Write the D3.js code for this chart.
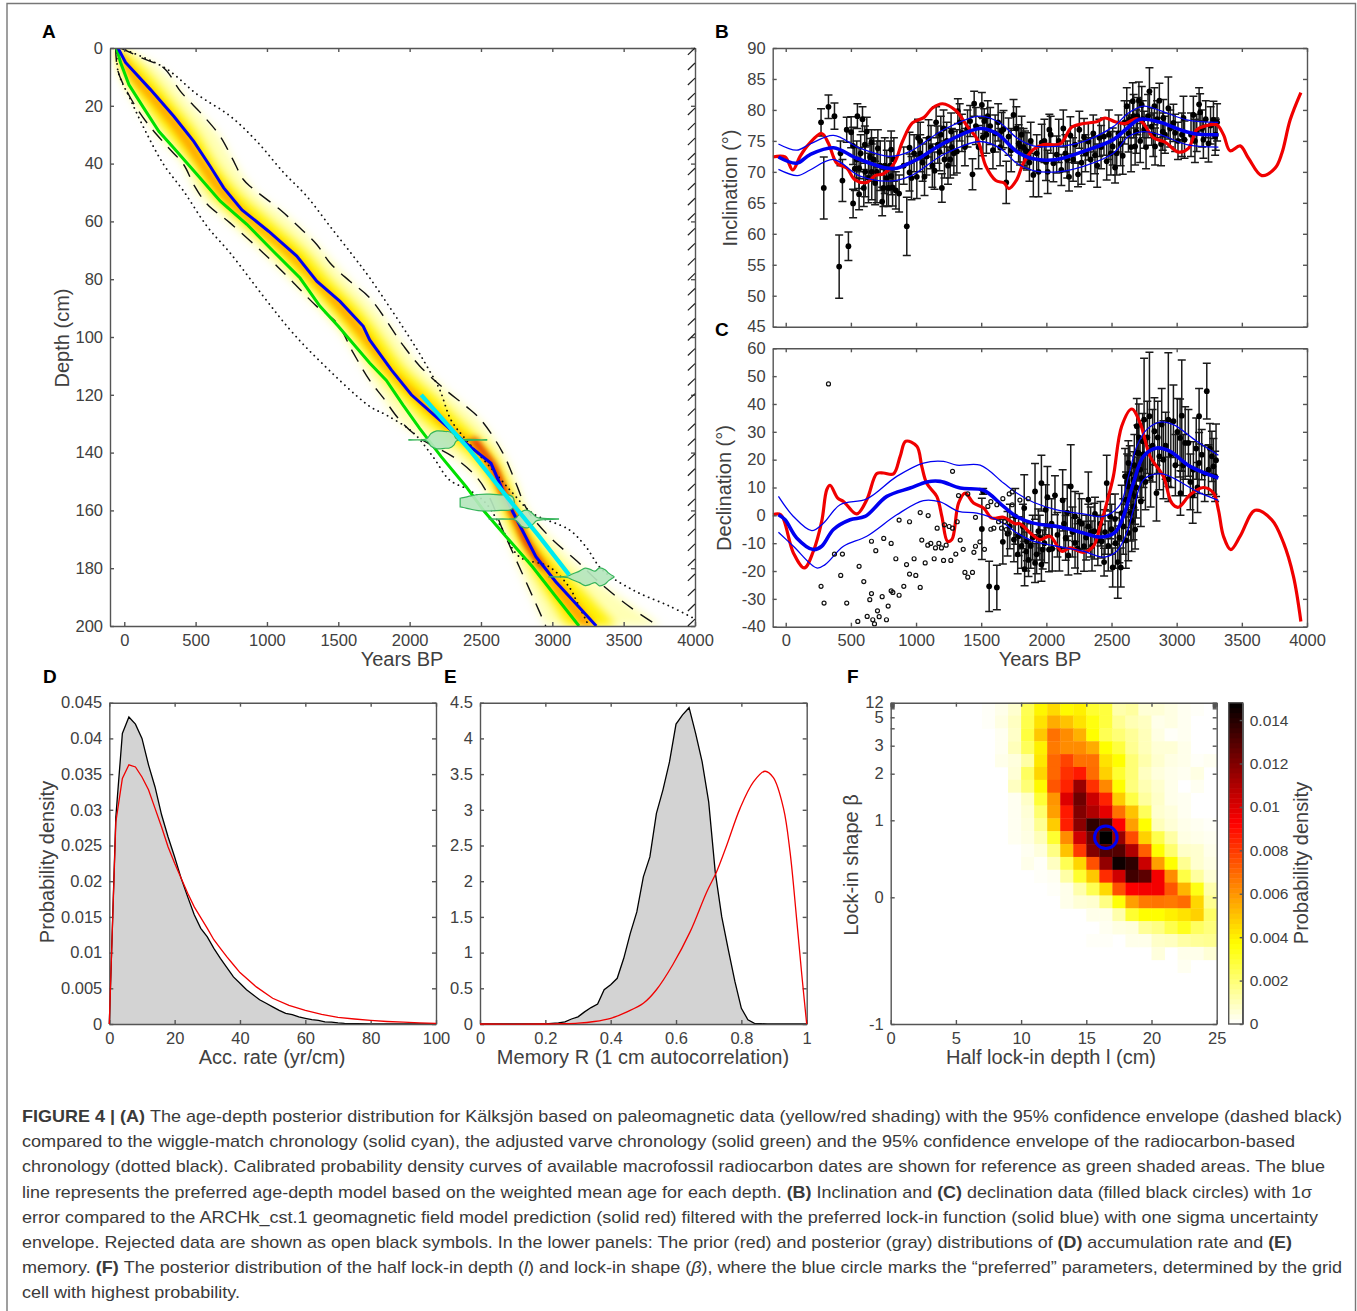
<!DOCTYPE html>
<html>
<head>
  <title>Figure 4</title>
  <style>
    body { margin: 0; background: #fff; }
    svg { display: block; font-family: "Liberation Sans", sans-serif; }
    .tick text { font-size: 16.5px; fill: #404040; }
    .bar-axis .tick text { font-size: 15.5px; }
    .domain, .tick line { stroke: #555; stroke-width: 1.4; }
    .title { font-size: 20px; fill: #404040; text-anchor: middle; }
    .panel { font-size: 19px; font-weight: bold; fill: #000; }
    .cap { font-size: 17px; fill: #3a3a3a; }
  </style>
</head>
<body>
<svg id="fig" width="1357" height="1311"></svg>
<script src="https://d3js.org/d3.v7.min.js"></script>
<script>
// ---- panel A: age-depth
const blueD = [0,5,14.4,23.6,32.3,41,48.4,56,63.4,72,80.7,87.7,96.3,101,111.4,120,128.7,136.8,143.7,153,160.4,176,184.7,192.2,200];
const blueA = [-44,9,184,347,487,603,697,825,1011,1209,1349,1512,1675,1720,1872,2012,2210,2396,2570,2652,2722,2885,3024,3164,3308];
const greenD = [0,5,12.7,20.8,28.8,34.6,43.8,53,61,70.4,79.6,89.4,96.3,109,115,123.5,131.6,141.4,151.8,160.4,169,179.5,189.8,200];
const greenA = [-54,-26,33,137,242,347,510,673,859,1046,1232,1372,1500,1720,1837,1953,2070,2221,2396,2524,2675,2861,3024,3187];
const cyanD = [120,139,156.3,169,182.3];
const cyanA = [2081,2419,2698,2908,3118];
const dashHiD = [0,3.5,6.9,15,23.6,30.6,38,45.6,48.4,56,62.3,68,74.4,80.7,86.5,102.8,110,118,124,128.7,140,150.6,160,169,177.7,185.8,194,199];
const dashHiA = [-26,126,277,394,557,673,755,836,895,1093,1232,1349,1442,1581,1721,1953,2070,2244,2396,2500,2652,2745,2827,2978,3176,3350,3560,3711];
const dashLoD = [0,8,17.3,26,34,40.4,47.3,54,60.6,71,80,89.4,95,105.5,115,121,128.7,135,141.4,148.3,155.3,166.7,179.5,192.2,200];
const dashLoA = [-60,-44,44,161,300,417,487,580,743,976,1162,1349,1488,1605,1720,1814,1930,2070,2303,2466,2558,2652,2768,2884,2954];
const dotHiD = [0,7,16,23.6,32.3,43,51.3,61.7,72,79.6,102,109.7,118,128.7,135.6,146,154,161,166.7,172.5,180.6,188,193,197.3];
const dotHiA = [-26,289,510,743,929,1115,1279,1442,1605,1721,2023,2116,2209,2290,2396,2582,2722,2862,3118,3234,3350,3583,3816,3990];
const dotLoD = [0,8,17.9,28.8,40.4,49.6,61.7,71,86,97.5,107.3,124,127,133,141.4,149.5,153,157.6,165.6,176,179.5,186.5,192,199];
const dotLoA = [-50,-44,44,149,277,417,580,743,976,1162,1349,1720,1837,2023,2163,2280,2419,2536,2640,2768,2978,3118,3176,3246];

// shading bands (age limits at each depth)
const shadeD = [0,5,10,20,30,40,50,60,70,80,90,100,110,120,130,140,150,160,170,180,190,200];
const paleLo = [-60,-50,-25,85,235,410,510,730,955,1162,1360,1540,1670,1800,1950,2260,2490,2600,2690,2770,2860,2954];
const paleHi = [-26,190,310,480,660,775,920,1180,1385,1570,1760,1920,2070,2290,2510,2650,2745,2827,3000,3200,3470,3760];
const yellowLo = [-50,-30,10,150,310,470,600,810,1040,1240,1430,1600,1750,1920,2120,2390,2560,2650,2745,2850,2970,3100];
const yellowHi = [-30,90,190,360,520,640,800,1030,1260,1440,1640,1800,1950,2170,2380,2580,2690,2775,2890,3070,3260,3450];
const orangeLo = [-40,-15,40,210,370,510,650,860,1100,1300,1480,1650,1810,2000,2210,2470,2600,2690,2785,2910,3040,3200];
const orangeHi = [-35,30,110,290,450,580,730,925,1170,1350,1560,1720,1860,2070,2280,2530,2650,2740,2840,2990,3150,3310];
const redD = [135,140,145,150,155,160,165,170,175,180];
const redLo = [2420,2500,2570,2610,2650,2700,2750,2790,2850,2920];
const redHi = [2470,2540,2610,2650,2690,2735,2780,2825,2885,2955];

// radiocarbon pdfs: centre depth, age, half height in cm
const pdfDepth = [135.6,157.3,163,183];
const pdfAge = [
  [1995,2120,2150,2190,2250,2280,2310,2330,2540],
  [2354,2375,2430,2480,2560,2640,2700,2725,2733],
  [2558,2740,2760,2790,2830,2860,2890,2920,3043],
  [2977,3110,3140,3190,3230,3265,3300,3330,3370,3395,3432]
];
const pdfHalf = [
  [0.1,0.4,2.2,3.1,2.9,2.8,1.8,0.3,0.1],
  [1.5,1.7,2.3,2.8,2.9,2.7,2.6,1.8,0.4],
  [0.05,0.3,1.2,2.7,3,2,0.6,0.3,0.05],
  [0.05,0.3,1,2,3,2.6,2,3.1,2.5,1.3,0.1]
];

// ---- panel B: inclination
const incAge = [271,328,374,292,410,481,420,435,517,468,502,517,563,550,589,563,599,622,607,658,647,686,707,740,750,788,809,809,845,929,950,950,985,1006,1032,1032,1065,1096,1142,1154,1167,1180,1198,1211,1218,1262,1269,1275,1313,1321,1352,1433,1415,1446,1459,1505,1513,1523,1569,1607,1671,1692,1710,1748,1787,1825,1851,1657,1798,1836,1900,1926,1964,1997,2023,2033,2054,2079,2115,2146,2174,2184,2220,2243,2253,2289,2322,2360,2373,2407,2442,2463,2509,2527,2553,2586,2617,2630,2663,2681,2698,2732,2750,2791,2808,2829,2834,2867,2893,2898,2936,2975,2988,3052,3060,3128,3154,3172,3180,3205,3223,3244,3282,3295,
  830,870,905,965,1015,1050,1080,1115,1125,1190,1235,1245,1290,1335,1375,1395,1480,1540,1550,1590,1630,1645,1730,1770,1810,1870,1880,1940,1985,2010,2095,2130,2160,2205,2270,2300,2340,2390,2420,2480,2495,2540,2570,2600,2640,2650,2670,2690,2710,2720,2740,2765,2780,2820,2850,2880,2910,2950,3010,3040,3110,3140,3195,3260,3310,3300,
  530,545,575,610,635,660,675,700,725,760,775,800,820];
const incVal = [78,80.5,79,67.4,54.7,58,73,68.6,64.9,76.8,76.4,74.2,70.6,79,78.5,66.4,67.4,76.5,74.4,74.8,72.4,68.2,73.8,65.2,67.4,67.4,73.6,69.3,67,61.2,73.9,69.9,73,69.2,75,73,69.2,75.4,70.2,78,74.4,73.2,67.4,77,72,72,76.5,74,73.3,79.8,76.3,69.6,78.2,81,77.4,80.8,75.6,78.2,77.4,76.2,76.9,68.3,75.7,79.2,74.6,74,73.3,76.6,74.1,73.6,69.5,73,74.7,71.6,76.8,76,71.4,72.8,70.3,73,69.2,75.9,74.4,69.6,76.8,75.6,74.9,76.2,72.7,75.5,75.7,71.7,74.1,70.7,76.2,72.6,80.6,76.2,81.4,74.1,79,80.8,76.8,83,77.3,80.6,74.1,81.5,76.5,78.7,80.3,77.9,76.3,78.7,75.2,79.2,76.3,80.9,79.6,75.2,78.5,74.6,78.4,75.7,
  72,66.5,71,69,75.5,71.5,72.5,74,71,76,75,71,73,78,74,77,74,76,79,73.5,78,74,73.5,77,76,71.5,75,70,75,70,75,77,72,72,71.5,73,72,71,74,76,73,73,74.5,78,78.5,74,79,76.5,81.5,75,78.5,74,79,76,78.5,74.5,76,77,75,76,76,75,77,77.5,78,76,
  70.5,72,73,70,69,70,72,70,71,71,69,71,67.5];
const incErr = [2.2,1.9,2.1,5,5.1,2.3,2,3.4,2.3,2,2.5,3,3.3,2,2,2.5,3,2.3,3,2,3,3.5,3,2.3,3,3,3,3,3,4.7,2.5,3,3,3.5,3,3,3,3,3,2.5,3,3,2.3,3,3,3,3,3,3.5,2,3,2.5,2.5,2,3,2,3,2,3,3,3,3.4,3,2.5,3,3,3,3,3,3,3.5,3,3,3,2.5,3,3,3,2.5,3,2.3,3,3,2,3,3,3,3,3,3,3,3,3,2.5,3,3,3,3,3,3,3,3,3,3.8,3,3,3,2.8,3,3,5,3,3,3.5,3,3,3,2.7,3,3,3,3,3,3,
  3.5,3,3,3.5,3,3,3,3.5,3.5,3,3,3,3.5,3,3,3,3.5,3,2.5,3,3,3,3.5,3.5,3,3,3,4,3.5,3.5,3.5,3,3,3.5,3.5,3,3.5,3.5,3.5,4,3.5,3.5,3.5,3.5,3,4,3.5,3.5,3,3.5,3,3.5,3.5,3.5,3,3.5,3,3,3,3.5,3.5,3.5,3,3,3,2.5,
  3.5,3,3,4,4,4.5,3.5,5,4,4.5,4.5,4,3];
const incRedA = [-100,-5,54,110,174,276,328,392,468,532,622,686,750,833,896,972,1062,1126,1203,1305,1395,1472,1536,1612,1676,1712,1772,1823,1900,1977,2105,2194,2284,2386,2450,2527,2604,2693,2745,2822,2911,3013,3090,3154,3218,3307,3359,3410,3487,3551,3653,3755,3807,3871,3953];
const incRedV = [72.4,72.4,70.3,72.5,74.4,76.2,74.6,71.4,70.6,68.7,68.3,69.4,69.7,71.4,74.9,77.9,78.8,80.3,81,79.9,77.3,75.2,70.9,68.6,68.2,67.3,68.7,71.4,73.6,74.4,74.5,77.2,77.8,78.1,78.7,78.1,77.8,78.6,77.8,75.5,74.8,73.2,73.8,76.8,77.4,77.6,76,73.4,74.2,72.2,69.4,70.6,73,78.4,82.8];
const incBlueA = [-56,84,187,366,545,776,852,1006,1211,1492,1620,1772,1900,2079,2284,2514,2617,2719,2873,3026,3154,3320];
const incBlueV = [72.4,71.4,72.8,73.9,72.2,70.6,70.6,72,74.6,77,76.2,73.3,72.1,72,73.3,75.2,77,78.5,78,76.8,76.1,76];
const incUpA = [-56,84,187,366,571,801,955,1211,1492,1646,1772,1900,2079,2284,2514,2630,2745,2873,3077,3320];
const incUpV = [74.5,73.5,74.5,75.9,73.8,72.5,73.3,76.8,79,77.9,75.5,74.2,74.1,74.9,77.3,79.5,80.6,79.9,78.4,78];
const incLowA = [-56,90,187,366,571,801,955,1211,1492,1646,1772,1900,2079,2284,2514,2630,2745,2873,3077,3320];
const incLowV = [70.4,69.4,70.3,72,69.3,68.5,69.3,72.8,74.9,73.8,71.4,70.2,70,70.9,73,75.7,76.5,76,74.4,74];

// ---- panel C: declination
const decAge = [1505,1515,1561,1620,1666,1702,1751,1761,1787,1830,1833,1863,1851,1913,1913,1939,1962,1962,1972,2008,2020,2066,2125,2148,2169,2187,2220,2220,2253,2289,2322,2322,2373,2368,2425,2443,2463,2489,2509,2527,2548,2571,2578,2629,2629,2647,2668,2681,2694,2706,2732,2750,2791,2829,2867,2885,2898,2936,2936,2975,3026,3039,3029,3065,3128,3123,3172,3172,3192,3231,3244,3270,3282,3302,2604,2611,2655,2681,2668,2699,2719,2739,2629,
  1720,1780,1810,1820,1845,1880,1895,1925,1950,1985,1995,2040,2045,2085,2100,2135,2160,2200,2240,2270,2305,2340,2350,2395,2415,2450,2475,2500,2530,2560,2590,2610,2620,2640,2655,2675,2690,2710,2725,2745,2760,2775,2800,2815,2845,2855,2915,2955,2990,3005,3050,3090,3105,3150,3160,3215,3255,3295];
const decVal = [-4.9,8.6,-25.5,-25.9,-9.5,-6.6,-8.7,-0.4,-7.5,2.6,-19.3,-16,-9.3,8.6,-17.1,-5.7,11.6,-17.7,-12.3,6.5,-12.3,7.2,5.4,-8.1,-14.4,10.4,-0.4,-9.9,-2.2,-11.1,5.6,-4,0.5,-5.7,-9.3,-16.8,11.6,-0.4,-18.7,-1.3,-16.8,-18.7,0.8,18.8,10.4,0.8,3.2,-5.1,32,22.4,13.4,34.4,35.6,30.2,21.2,32.6,20,34.4,13,33.8,27.8,35.8,8,26,16.4,7.2,35.6,18.8,21.8,44.6,16.4,21.2,17.6,19.8,14,5.6,8,6.8,12.8,22.4,16.4,26.6,-6.3,
  -4,-14,-11,-4,-13,-11,-8,-14,-8,-10,2,-3,-12,-7,-12,-3,1,-6,-12,-3,-8,-6,-11,-9,-3,-6,-11,-5,-10,-8,-4,-9,12,15,-2,18,10,28,5,22,12,28,14,25,8,28,25,22,18,30,18,26,12,24,10,15,24,14];
const decErr = [11,1,9,8,8,8,8,10,7,12,6,6,7,10,7,8,10,6,7,11,8,7,11,8,7,15,9,9,10,9,10,8,6,10,6,5,10,8,7,9,13,7,10,8,11,10,12,7,10,10,8,22,23,12,12,13,14,24,8,13,14,20,8,13,10,10,10,11,9,10,9,9,10,13,10,10,10,10,10,10,10,10,10,
  8,7,8,8,7,8,8,7,8,7,9,9,8,8,8,9,10,9,9,9,8,9,9,9,8,8,9,9,9,9,10,10,10,10,11,11,11,12,9,12,10,13,11,13,10,13,12,12,11,12,11,12,10,11,9,10,9,9];
const rejAge = [328,374,435,271,294,422,468,563,599,553,658,691,752,809,845,870,927,950,950,985,998,1032,1093,1044,1032,1070,1090,1113,1139,1149,1175,1195,1162,1211,1231,1218,1254,1280,1267,1280,1305,1316,1326,1339,1362,1397,1375,1397,1433,1444,1456,1456,1490,1525,1551,1574,1620,1574,1597,1666,1656,1679,1692,1715,1738,1738,1715,1797,1861,1633,625,645,658,668,681,704,717,740,773,786,809,822,870,906];
const rejVal = [47.2,-13.9,-13.9,-25.5,-31.5,-21.6,-31.5,-18.3,-23.8,-38.1,-9.3,-12.7,-8.3,-10.1,-15.6,-1.7,-17.7,-2.3,-21.1,-15.6,-21.6,1,-0.1,-8.9,-25.9,-17.1,-10.7,-10.1,-15.6,-11.7,-10.1,-11.7,-4.6,-16.2,-10.7,-3.4,-4,-4.6,-16.2,15.8,-13.9,-2.3,7.1,-8.9,-12.2,7.7,-20.5,-22.2,-20.5,-13.3,-11.1,-0.7,-9.5,-12.2,3.2,4.9,3.8,-5,-4.6,6,-4.6,-2.3,-5.1,7.7,8.4,3.8,-6.3,5.5,6,-2.3,-36.3,-30.3,-28.1,-37.5,-39,-34.3,-36.4,-29.2,-37.5,-32.6,-27.1,-27.7,-28.7,-25.5];
const decRedA = [-100,-38,59,143,212,276,315,340,399,443,545,622,699,750,827,878,921,1006,1044,1083,1159,1198,1241,1275,1326,1377,1441,1518,1582,1671,1760,1798,1875,1951,2028,2118,2182,2284,2361,2412,2463,2514,2578,2655,2719,2796,2898,2962,3013,3103,3205,3282,3320,3359,3415,3487,3602,3730,3820,3896,3953];
const decRedV = [0.2,0.2,-13.5,-18.9,-12.9,-2.2,9.2,10.8,6.2,5,0.5,5.6,15,15.2,14.9,21.2,26.6,24.8,17.6,11.4,6.8,-0.4,-9.3,-8.7,4.4,8,4.4,2.6,-1,-0.7,-3,-3,-6.3,-8.7,-7.5,-12.9,-11.7,-13.3,-11.1,-4,4.4,14,32,38.2,33.2,21.2,14,4.4,2.9,7.4,10,8,2,-7.5,-12.3,-7.5,1.8,-1.6,-9.9,-21.9,-38.1];
const decBlueA = [-56,-5,84,212,276,366,494,609,776,955,1083,1185,1339,1518,1671,1772,1900,2105,2284,2412,2527,2591,2668,2745,2847,2949,3103,3320];
const decBlueV = [0.2,-1.6,-8.1,-12.3,-11.1,-5.1,-1.6,-0.4,6.8,9.8,12,12.2,9.8,9,3.2,-0.4,-2.8,-4.2,-6.3,-7.8,-6.1,-0.4,11.6,21.2,24.2,23,17.6,13.4];
const decUpA = [-56,59,200,289,417,622,852,1057,1211,1313,1492,1671,1772,1900,2079,2284,2438,2565,2630,2694,2770,2873,2975,3154,3320];
const decUpV = [6.8,-0.4,-5.5,-2.8,3.8,5.9,14,18.8,19.4,18,18,11.6,8,4.7,2,0.5,-0.4,3.8,14,24.8,30.8,33.5,32.6,26.6,21.6];
const decLowA = [-56,59,238,302,443,622,852,1057,1185,1326,1467,1671,1772,1900,2079,2284,2438,2540,2617,2668,2745,2873,2975,3154,3320];
const decLowV = [-6.1,-11.1,-18.9,-17.7,-11.1,-7.5,0.2,5.3,4.8,1.4,0.8,-2.8,-6.3,-9.3,-11.1,-12.9,-15,-12.9,-6.3,2,12.8,15,13.4,8.6,5.4];

// ---- panel D: accumulation rate
const accPostX = [0,2,4,6,8,10,12,14,16,18,20,22,24,26,28,30,32,34,36,38,40,42,44,46,48,50,52,54,56,58,60,62,64,66,68,70,72,76,80,100];
const accPostY = [0,0.029,0.0407,0.043,0.042,0.04,0.0363,0.0332,0.0293,0.0262,0.0234,0.0204,0.0178,0.0153,0.0134,0.0122,0.0106,0.0092,0.0079,0.0066,0.0057,0.0048,0.0041,0.0034,0.0029,0.0024,0.0019,0.0015,0.0013,0.001,0.0008,0.0006,0.0005,0.0003,0.00025,0.00015,0.0001,0.00005,0,0];
const accPriorX = [0,2,4,6,8,10,12,14,16,18,20,22,24,26,28,30,32,34,36,38,40,45,50,55,60,65,70,75,80,85,90,95,100];
const accPriorY = [0,0.0283,0.0344,0.0363,0.036,0.0346,0.0328,0.0302,0.0276,0.0248,0.0225,0.0204,0.0183,0.0164,0.0149,0.0134,0.0118,0.0106,0.0094,0.0083,0.0072,0.0052,0.0036,0.0026,0.0019,0.00135,0.00093,0.0007,0.0005,0.00035,0.00025,0.00015,0.0001];

// ---- panel E: memory
const memPostX = [0,0.2,0.22,0.24,0.26,0.28,0.3,0.32,0.34,0.36,0.38,0.4,0.42,0.44,0.46,0.48,0.5,0.52,0.54,0.56,0.58,0.6,0.62,0.64,0.66,0.68,0.7,0.72,0.74,0.76,0.78,0.8,0.82,0.84,0.86,0.88,1];
const memPostY = [0,0,0.01,0.015,0.03,0.07,0.1,0.17,0.23,0.28,0.48,0.55,0.64,0.92,1.27,1.57,2.06,2.34,2.95,3.28,3.67,4.2,4.33,4.43,4.07,3.67,3.11,2.13,1.5,1.04,0.6,0.22,0.06,0.01,0.005,0,0];
const memPriorX = [0,0.2,0.25,0.3,0.35,0.4,0.45,0.5,0.54,0.59,0.643,0.694,0.724,0.755,0.796,0.837,0.872,0.898,0.929,0.949,0.969,0.985,1];
const memPriorY = [0,0,0.004,0.012,0.035,0.08,0.17,0.29,0.48,0.83,1.29,1.85,2.13,2.5,3.02,3.39,3.54,3.45,3.02,2.41,1.48,0.69,0];

// ---- panel F: lock-in grid, top row first, units of 1e-3
const lockRows = [
  [0,0,0,0,0,0,0,0.1,0.3,0.7,2.5,3.9,4.5,3.8,4,3,2.8,1.2,1.4,0.6,0.6,0.4,0.2,0.1,0],
  [0,0,0,0,0,0,0,0.1,0.4,0.9,2.6,4.3,5.5,5,4.3,3.5,2.8,1.6,1.1,0.9,0.3,0.4,0.2,0,0],
  [0,0,0,0,0,0,0,0,0.2,0.8,2.8,4.9,6.8,6.2,5.4,3.7,2.5,2,1.5,1,0.4,0.1,0.2,0,0],
  [0,0,0,0,0,0,0,0,0.2,1,2.4,4,6.6,6.2,6.2,5.5,3.7,2.8,1.6,1,0.6,0.6,0.3,0,0],
  [0,0,0,0,0,0,0,0,0.3,0.5,1.3,4.2,7,7.8,6.8,6.8,4.3,3.7,2,1.2,0.7,0.4,0.3,0.1,0.2],
  [0,0,0,0,0,0,0,0,0,0.6,2.3,4.6,7,8.2,8.7,6.9,4.7,3,2,0.9,0.5,0.3,0.2,0.4,0],
  [0,0,0,0,0,0,0,0,0,0.9,2,3.8,7.4,8.5,11.5,8.2,6.3,3.7,1.9,1.1,0.7,0.3,0,0.2,0],
  [0,0,0,0,0,0,0,0,0,0.2,0.8,2.9,6,10,12.4,10.4,8.5,4.8,2.7,1.4,0.8,0.3,0.2,0,0],
  [0,0,0,0,0,0,0,0,0,0.2,0.6,2.1,5.8,8.7,12,11,9.8,6.8,5,2.4,0.7,0.5,0.2,0,0],
  [0,0,0,0,0,0,0,0,0,0.2,0.5,1.6,4.8,8.6,11.8,13.8,13.2,9.3,5.8,3.7,1,0.6,0.3,0.2,0.1],
  [0,0,0,0,0,0,0,0,0,0.2,0.4,1,3,6.2,10.3,12.4,14.8,11.5,7.6,4.7,2.6,1.3,0.4,0.3,0.2],
  [0,0,0,0,0,0,0,0,0,0,0.2,0.5,1.8,5,8,12,13,13,11,7.2,3.7,2.1,0.8,0.7,0.3],
  [0,0,0,0,0,0,0,0,0,0,0.3,0.1,0.9,2.5,4.6,7.5,11.6,14.5,13.8,10.4,5.8,3.7,1.6,0.7,0.4],
  [0,0,0,0,0,0,0,0,0,0,0,0.1,0.2,1.3,3,4.9,8.3,10.3,13.4,12.8,9.5,6.2,2.7,1.4,0.6],
  [0,0,0,0,0,0,0,0,0,0,0,0,0.1,0.3,1.2,2.5,4.5,7.5,9.3,9.5,9.5,7.4,5.3,3.4,1.2],
  [0,0,0,0,0,0,0,0,0,0,0,0,0,0.3,0.6,0.7,1.8,3.6,5.8,6.6,6.7,6.6,6.9,4.6,1.6],
  [0,0,0,0,0,0,0,0,0,0,0,0,0,0,0,0.3,0.3,1.2,3,3.7,3.7,4,4.3,4.7,2.2],
  [0,0,0,0,0,0,0,0,0,0,0,0,0,0,0,0,0.2,0.4,0.5,1.5,1.8,2.6,3.3,2.3,1.9],
  [0,0,0,0,0,0,0,0,0,0,0,0,0,0,0,0.1,0.1,0,0.3,0.3,0.8,0.9,1.3,1.5,1.6],
  [0,0,0,0,0,0,0,0,0,0,0,0,0,0,0,0,0,0,0,0,0.5,0,0.3,0.3,0.6],
  [0,0,0,0,0,0,0,0,0,0,0,0,0,0,0,0,0,0,0,0,0,0,0.2,0,0]
];
const lockBetaTicks = [-1,0,1,2,3,4,5,6,7,8,9,10,11,12];
const lockBetaLabels = [-1,0,1,2,3,5,12];
const lockBetaPx = [1024,897.3,820.3,773.7,745.7,728.3,717.3,708.3,706.8,705.8,705,704.2,703.4,702.7];
const preferredL = 16.5, preferredBeta = 0.78;
const colorTicks = [0,0.002,0.004,0.006,0.008,0.01,0.012,0.014];
const colorMax = 0.0148;

const caption = [
  [["b","FIGURE 4 | (A) "],["","The age-depth posterior distribution for Kälksjön based on paleomagnetic data (yellow/red shading) with the 95% confidence envelope (dashed black)"],1320],
  [["","compared to the wiggle-match chronology (solid cyan), the adjusted varve chronology (solid green) and the 95% confidence envelope of the radiocarbon-based"],1273],
  [["","chronology (dotted black). Calibrated probability density curves of available macrofossil radiocarbon dates are shown for reference as green shaded areas. The blue"],1303],
  [["","line represents the preferred age-depth model based on the weighted mean age for each depth. "],["b","(B) "],["","Inclination and "],["b","(C) "],["","declination data (filled black circles) with 1σ"],1290],
  [["","error compared to the ARCHk_cst.1 geomagnetic field model prediction (solid red) filtered with the preferred lock-in function (solid blue) with one sigma uncertainty"],1296],
  [["","envelope. Rejected data are shown as open black symbols. In the lower panels: The prior (red) and posterior (gray) distributions of "],["b","(D) "],["","accumulation rate and "],["b","(E)"],1270],
  [["","memory. "],["b","(F) "],["","The posterior distribution of the half lock-in depth ("],["i","l"],["",") and lock-in shape ("],["i","β"],["","), where the blue circle marks the “preferred” parameters, determined by the grid"],1320],
  [["","cell with highest probability."],218]
];

const svg = d3.select("#fig");
const defs = svg.append("defs");
const line = (xs, ys, x, y, curve) => d3.line().x((d, i) => x(xs[i])).y((d, i) => y(ys[i])).curve(curve || d3.curveLinear)(xs);

svg.append("path").attr("d", "M7,1311V3.5H1355.5V1311")
  .attr("fill", "none").attr("stroke", "#777").attr("stroke-width", 1.4);

function frame(x, y, xTicks, yTicks, xFmt, yFmt) {
  const [x0, x1] = d3.extent(x.range()), [yTop, yBot] = d3.extent(y.range());
  const g = svg.append("g");
  g.append("g").attr("transform", `translate(0,${yBot})`)
    .call(d3.axisBottom(x).tickValues(xTicks).tickFormat(xFmt || (d => d)).tickSize(-4).tickSizeOuter(0).tickPadding(8));
  g.append("g").attr("transform", `translate(0,${yTop})`)
    .call(d3.axisTop(x).tickValues(xTicks).tickFormat("").tickSize(-4).tickSizeOuter(0));
  g.append("g").attr("transform", `translate(${x0},0)`)
    .call(d3.axisLeft(y).tickValues(yTicks).tickFormat(yFmt || (d => d)).tickSize(-4).tickSizeOuter(0).tickPadding(7));
  g.append("g").attr("transform", `translate(${x1},0)`)
    .call(d3.axisRight(y).tickValues(yTicks).tickFormat("").tickSize(-4).tickSizeOuter(0));
  return g;
}
function label(txt, x, y, rot) {
  svg.append("text").attr("class", "title")
    .attr("transform", `translate(${x},${y})` + (rot ? " rotate(-90)" : ""))
    .attr("dy", "0.35em").text(txt);
}
function panel(txt, x, y) { svg.append("text").attr("class", "panel").attr("x", x).attr("y", y).text(txt); }

// ---------- A
{
  const x = d3.scaleLinear().domain([-100, 4000]).range([110, 695]);
  const y = d3.scaleLinear().domain([0, 200]).range([48, 626]);
  defs.append("clipPath").attr("id", "clipA").append("rect").attr("x", 110).attr("y", 48).attr("width", 585).attr("height", 578);
  defs.append("filter").attr("id", "soft").attr("x", "-20%").attr("y", "-20%").attr("width", "140%").attr("height", "140%")
    .append("feGaussianBlur").attr("stdDeviation", 5);
  defs.append("filter").attr("id", "soft2").attr("x", "-20%").attr("y", "-20%").attr("width", "140%").attr("height", "140%")
    .append("feGaussianBlur").attr("stdDeviation", 3);
  const shade = svg.append("g").attr("clip-path", "url(#clipA)");
  const band = (ds, lo, hi, color, filt, op) => {
    const ar = d3.area().y(d => y(d)).x0((d, i) => x(lo[i])).x1((d, i) => x(hi[i])).curve(d3.curveCatmullRom);
    shade.append("path").attr("d", ar(ds)).attr("fill", color).attr("fill-opacity", op).attr("filter", `url(#${filt})`);
  };
  band(shadeD, paleLo, paleHi, "#ffffb4", "soft", 1);
  band(shadeD, yellowLo, yellowHi, "#fff000", "soft", 1);
  band(shadeD, orangeLo, orangeHi, "#ff9400", "soft2", 0.8);
  band(redD, redLo, redHi, "#d80000", "soft2", 1);

  const plot = svg.append("g").attr("clip-path", "url(#clipA)").attr("fill", "none");
  const cr = d3.curveCatmullRom;
  [[dotHiA, dotHiD], [dotLoA, dotLoD]].forEach(([a, d]) =>
    plot.append("path").attr("d", line(a, d, x, y, cr)).attr("stroke", "#111").attr("stroke-width", 1.8).attr("stroke-linecap", "round").attr("stroke-dasharray", "0.1 5.2"));
  [[dashHiA, dashHiD], [dashLoA, dashLoD]].forEach(([a, d]) =>
    plot.append("path").attr("d", line(a, d, x, y, cr)).attr("stroke", "#111").attr("stroke-width", 1.4).attr("stroke-dasharray", "14 9"));
  plot.append("path").attr("d", line(greenA, greenD, x, y)).attr("stroke", "#00e000").attr("stroke-width", 3);
  plot.append("path").attr("d", line(blueA, blueD, x, y)).attr("stroke", "#0000f0").attr("stroke-width", 3);
  pdfAge.forEach((ages, k) => {
    const ar = d3.area().x(d => x(d))
      .y0((d, i) => y(pdfDepth[k] + pdfHalf[k][i])).y1((d, i) => y(pdfDepth[k] - pdfHalf[k][i])).curve(d3.curveCatmullRom);
    plot.append("path").attr("d", ar(ages)).attr("fill", "#b5e6bd").attr("fill-opacity", 0.92)
      .attr("stroke", "#36b45a").attr("stroke-width", 1.2);
  });
  plot.append("path").attr("d", line(cyanA, cyanD, x, y)).attr("stroke", "#00eaf0").attr("stroke-width", 4.2);

  frame(x, y, [0,500,1000,1500,2000,2500,3000,3500,4000], d3.range(0, 201, 20));
  svg.append("g").selectAll("line").data(d3.range(0, 198, 5.2)).join("line")
    .attr("x1", x(3950)).attr("y1", d => y(d + 2.4)).attr("x2", x(4000)).attr("y2", d => y(d))
    .attr("stroke", "#222").attr("stroke-width", 1.2);
  label("Depth (cm)", 62, 338, true);
  label("Years BP", 402, 659);
  panel("A", 42, 38);
}

// ---------- B and C
function geo(yDomain, yRange, ages, vals, errs, blue, up, low, red, clipId) {
  const x = d3.scaleLinear().domain([-100, 4000]).range([772.7, 1307]);
  const y = d3.scaleLinear().domain(yDomain).range(yRange);
  defs.append("clipPath").attr("id", clipId).append("rect").attr("x", 772.7).attr("y", yRange[1]).attr("width", 534.3).attr("height", yRange[0] - yRange[1]);
  const g = svg.append("g").attr("clip-path", `url(#${clipId})`);
  const bars = g.append("g").attr("stroke", "#1a1a1a").attr("stroke-width", 1.5);
  ages.forEach((a, i) => {
    const top = y(vals[i] + errs[i]), bot = y(vals[i] - errs[i]), px = x(a);
    bars.append("line").attr("x1", px).attr("x2", px).attr("y1", top).attr("y2", bot);
    bars.append("line").attr("x1", px - 4).attr("x2", px + 4).attr("y1", top).attr("y2", top);
    bars.append("line").attr("x1", px - 4).attr("x2", px + 4).attr("y1", bot).attr("y2", bot);
  });
  g.append("g").selectAll("circle").data(ages).join("circle")
    .attr("cx", d => x(d)).attr("cy", (d, i) => y(vals[i])).attr("r", 2.9).attr("fill", "#000");
  const cm = d3.curveCatmullRom;
  g.append("path").attr("d", line(red[0], red[1], x, y, cm)).attr("fill", "none").attr("stroke", "#f00000").attr("stroke-width", 3.2);
  g.append("path").attr("d", line(up[0], up[1], x, y, cm)).attr("fill", "none").attr("stroke", "#0000f0").attr("stroke-width", 1.3);
  g.append("path").attr("d", line(low[0], low[1], x, y, cm)).attr("fill", "none").attr("stroke", "#0000f0").attr("stroke-width", 1.3);
  g.append("path").attr("d", line(blue[0], blue[1], x, y, cm)).attr("fill", "none").attr("stroke", "#0000f0").attr("stroke-width", 3.6);
  return { x, y, g };
}
{
  const b = geo([45, 90], [326.7, 48], incAge, incVal, incErr, [incBlueA, incBlueV], [incUpA, incUpV], [incLowA, incLowV], [incRedA, incRedV], "clipB");
  frame(b.x, b.y, [0,500,1000,1500,2000,2500,3000,3500,4000], d3.range(45, 91, 5), () => "");
  label("Inclination (°)", 730, 188, true);
  panel("B", 715, 38);

  const c = geo([-40, 60], [626.7, 348.3], decAge, decVal, decErr, [decBlueA, decBlueV], [decUpA, decUpV], [decLowA, decLowV], [decRedA, decRedV], "clipC");
  c.g.append("g").selectAll("circle").data(rejAge).join("circle")
    .attr("cx", d => c.x(d)).attr("cy", (d, i) => c.y(rejVal[i])).attr("r", 2).attr("fill", "none").attr("stroke", "#111").attr("stroke-width", 1.2);
  frame(c.x, c.y, [0,500,1000,1500,2000,2500,3000,3500,4000], d3.range(-40, 61, 10));
  label("Declination (°)", 724, 488, true);
  label("Years BP", 1040, 659);
  panel("C", 715, 336);
}

// ---------- D and E
function dist(x0, x1, xDomain, xTicks, yDomain, yTicks, post, prior, curve) {
  const x = d3.scaleLinear().domain(xDomain).range([x0, x1]);
  const y = d3.scaleLinear().domain(yDomain).range([1024, 702.7]);
  const ar = d3.area().x((d, i) => x(post[0][i])).y0(y(0)).y1((d, i) => y(post[1][i]));
  svg.append("path").attr("d", ar(post[0])).attr("fill", "#d3d3d3");
  svg.append("path").attr("d", line(post[0], post[1], x, y)).attr("fill", "none").attr("stroke", "#000").attr("stroke-width", 1.3);
  frame(x, y, xTicks, yTicks);
  svg.append("path").attr("d", line(prior[0], prior[1], x, y, curve)).attr("fill", "none").attr("stroke", "#f00000").attr("stroke-width", 1.3);
}
dist(109.3, 436, [0, 100], [0,20,40,60,80,100], [0, 0.045], [0,0.005,0.01,0.015,0.02,0.025,0.03,0.035,0.04,0.045], [accPostX, accPostY], [accPriorX, accPriorY]);
label("Probability density", 47, 862, true);
label("Acc. rate (yr/cm)", 272, 1057);
panel("D", 43, 683);
dist(480, 806.7, [0, 1], [0,0.2,0.4,0.6,0.8,1], [0, 4.5], [0,0.5,1,1.5,2,2.5,3,3.5,4,4.5], [memPostX, memPostY], [memPriorX, memPriorY], d3.curveCatmullRom);
label("Memory R (1 cm autocorrelation)", 643, 1057);
panel("E", 444, 683);

// ---------- F
{
  const x = d3.scaleLinear().domain([0, 25]).range([890.7, 1216.7]);
  const rowY = d3.scaleLinear().domain([0, 25]).range([702.7, 1024]);
  const yBeta = d3.scaleLinear().domain(lockBetaTicks).range(lockBetaPx);
  const hot = d3.scaleLinear().domain([0, 0.25 * colorMax, 0.625 * colorMax, colorMax]).range(["#fff", "#ff0", "#f00", "#000"]).clamp(true);
  const cells = svg.append("g");
  lockRows.forEach((row, r) => row.forEach((v, c) => {
    if (v > 0) cells.append("rect").attr("x", x(c)).attr("y", rowY(r)).attr("width", x(1) - x(0) + 0.4).attr("height", rowY(1) - rowY(0) + 0.4)
      .attr("fill", hot(v / 1000));
  }));
  const axisLabel = d => lockBetaLabels.includes(d) ? d : "";
  frame(x, yBeta, [0,5,10,15,20,25], lockBetaTicks, null, axisLabel);
  svg.append("circle").attr("cx", x(preferredL)).attr("cy", yBeta(preferredBeta)).attr("r", 11.3)
    .attr("fill", "none").attr("stroke", "#0000f0").attr("stroke-width", 3);
  label("Lock-in shape β", 851, 865, true);
  label("Half lock-in depth l (cm)", 1051, 1057);
  panel("F", 847, 683);

  // colour bar
  const yc = d3.scaleLinear().domain([0, colorMax]).range([1024, 702.7]);
  const levels = d3.range(64);
  svg.append("g").selectAll("rect").data(levels).join("rect")
    .attr("x", 1228.7).attr("width", 14)
    .attr("y", d => yc((d + 1) / 64 * colorMax)).attr("height", d => yc(d / 64 * colorMax) - yc((d + 1) / 64 * colorMax) + 0.4)
    .attr("fill", d => hot((d + 0.5) / 64 * colorMax));
  svg.append("rect").attr("x", 1228.7).attr("y", 702.7).attr("width", 14).attr("height", 321.3).attr("fill", "none").attr("stroke", "#555").attr("stroke-width", 1.4);
  svg.append("g").attr("class", "bar-axis").attr("transform", "translate(1242.7,0)")
    .call(d3.axisRight(yc).tickValues(colorTicks).tickFormat(d => d).tickSize(-3).tickSizeOuter(0).tickPadding(7));
  label("Probability density", 1301, 863, true);
}

// ---------- caption
caption.forEach((ln, i) => {
  const t = svg.append("text").attr("class", "cap").attr("x", 22).attr("y", 1122 + i * 25.2)
    .attr("textLength", ln[ln.length - 1]).attr("lengthAdjust", "spacingAndGlyphs");
  ln.slice(0, -1).forEach(([k, s]) => {
    const sp = t.append("tspan").text(s);
    if (k === "b") sp.attr("font-weight", "bold");
    if (k === "i") sp.attr("font-style", "italic");
  });
});
</script>
</body>
</html>
